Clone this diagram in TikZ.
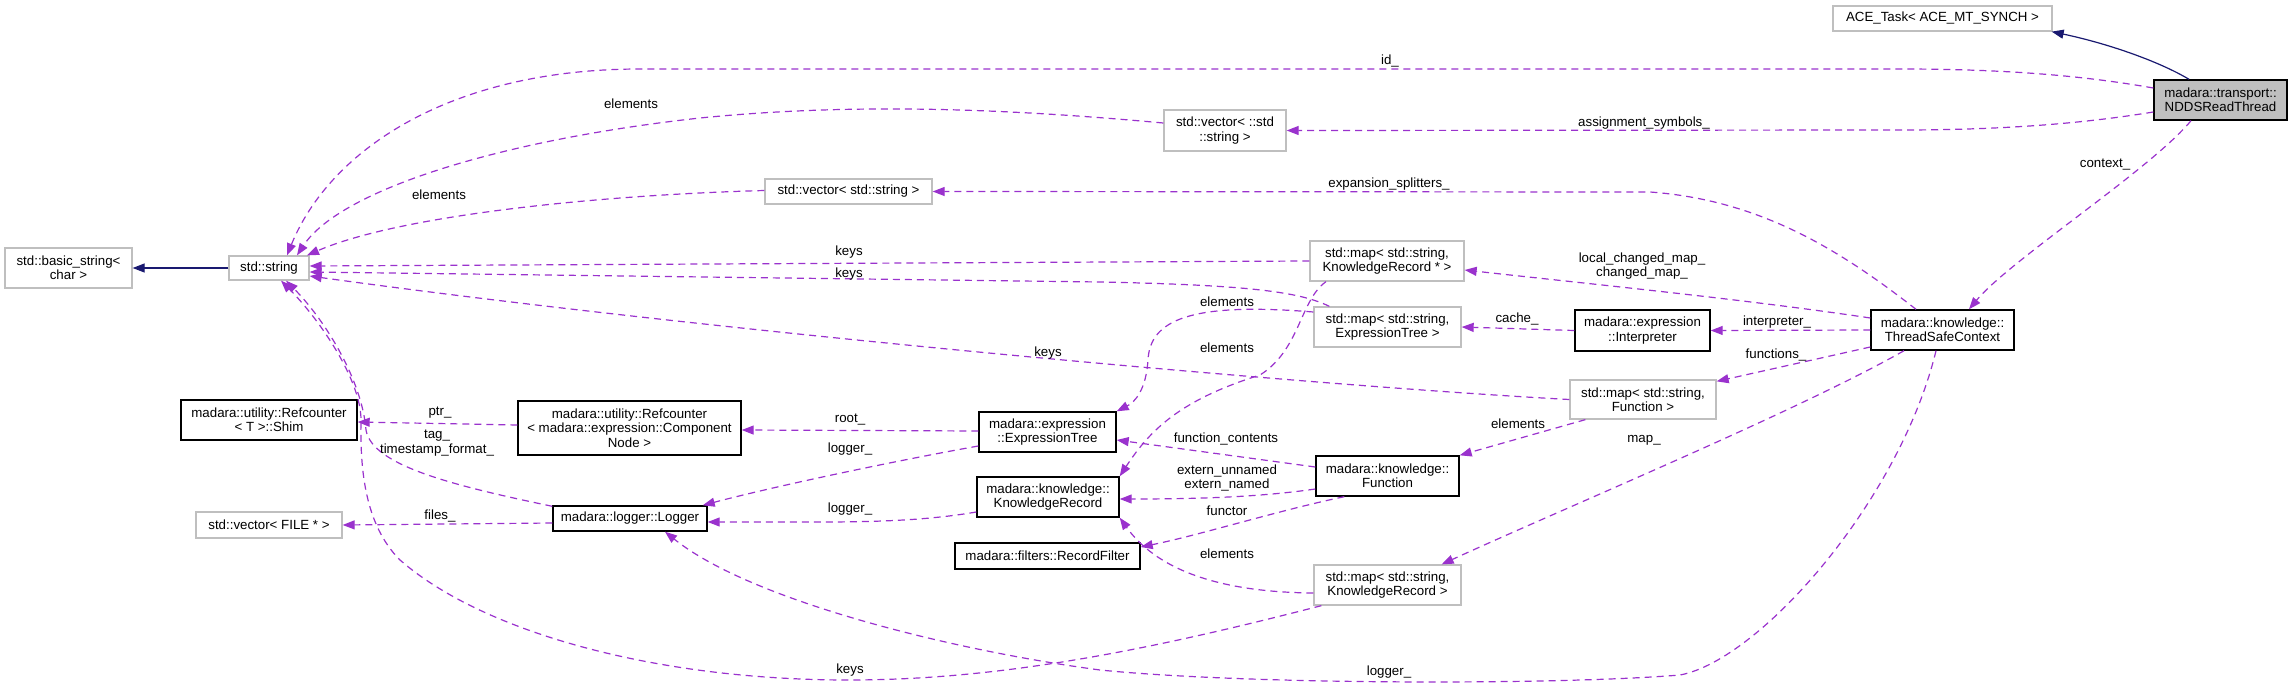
\documentclass[tikz,border=0pt]{standalone}
\usepackage{fontspec}
\setmainfont{Liberation Sans}
\usetikzlibrary{arrows.meta,calc}
\definecolor{edgepurple}{HTML}{9A32CD}
\definecolor{inhblue}{HTML}{191970}
\definecolor{gborder}{HTML}{BFBFBF}
\definecolor{nddsfill}{HTML}{BFBFBF}
\begin{document}
\begin{tikzpicture}[x=1pt,y=-1pt,
  font=\fontsize{13.3}{14.3}\selectfont,
  docbox/.style={draw=black, line width=1.4pt, fill=white, inner sep=0pt, align=center},
  undocbox/.style={draw=gborder, line width=1.3pt, fill=white, inner sep=0pt, align=center},
  hlbox/.style={draw=black, line width=1.4pt, fill=nddsfill, inner sep=0pt, align=center},
  rel/.style={draw=edgepurple, line width=1.2pt, dash pattern=on 7pt off 5pt, -{Triangle[length=12pt,width=9pt]}},
  inh/.style={draw=inhblue, line width=1.2pt, -{Triangle[length=12pt,width=9pt]}},
  lbl/.style={inner sep=0pt, align=center, fill=none}]
\useasboundingbox (0,0) rectangle (2292,688);
% nodes
\node[undocbox, minimum width=219pt, minimum height=25pt] (ace) at (1942.5,18.5) {ACE\_Task< ACE\_MT\_SYNCH >};
\node[hlbox, minimum width=133pt, minimum height=40pt] (ndds) at (2220.5,100) {madara::transport::\\NDDSReadThread};
\node[undocbox, minimum width=127pt, minimum height=40pt] (basic) at (68.5,268) {std::basic\_string<\\char >};
\node[undocbox, minimum width=80pt, minimum height=24pt] (str) at (269,268) {std::string};
\node[docbox, minimum width=176pt, minimum height=40pt] (shim) at (269,420) {madara::utility::Refcounter\\< T >::Shim};
\node[docbox, minimum width=223pt, minimum height=54pt] (refcn) at (629.5,428) {madara::utility::Refcounter\\< madara::expression::Component\\Node >};
\node[undocbox, minimum width=146pt, minimum height=26pt] (vfile) at (269,525) {std::vector< FILE * >};
\node[docbox, minimum width=154pt, minimum height=25pt] (logger) at (630,518.5) {madara::logger::Logger};
\node[docbox, minimum width=137pt, minimum height=40pt] (et) at (1047.5,432) {madara::expression\\::ExpressionTree};
\node[docbox, minimum width=142pt, minimum height=40pt] (kr) at (1048,497) {madara::knowledge::\\KnowledgeRecord};
\node[docbox, minimum width=185pt, minimum height=26pt] (rf) at (1047.5,556) {madara::filters::RecordFilter};
\node[undocbox, minimum width=167pt, minimum height=25pt] (vss) at (848.5,191.5) {std::vector< std::string >};
\node[undocbox, minimum width=122pt, minimum height=41pt] (vstd) at (1225,130.5) {std::vector< ::std\\::string >};
\node[undocbox, minimum width=154pt, minimum height=40pt] (mkrp) at (1387,261) {std::map< std::string,\\KnowledgeRecord * >};
\node[undocbox, minimum width=147pt, minimum height=40pt] (met) at (1387.5,327) {std::map< std::string,\\ExpressionTree >};
\node[docbox, minimum width=135pt, minimum height=41pt] (interp) at (1642.5,330.5) {madara::expression\\::Interpreter};
\node[docbox, minimum width=143pt, minimum height=40pt] (tsc) at (1942.5,330) {madara::knowledge::\\ThreadSafeContext};
\node[undocbox, minimum width=146pt, minimum height=39pt] (mfn) at (1643,399.5) {std::map< std::string,\\Function >};
\node[docbox, minimum width=143pt, minimum height=40pt] (fn) at (1387.5,476) {madara::knowledge::\\Function};
\node[undocbox, minimum width=147pt, minimum height=40pt] (mkr) at (1387.5,585) {std::map< std::string,\\KnowledgeRecord >};
% inheritance
\draw[inh] ($(ndds.north)+(-31.5,0)$) .. controls (2160,62) and (2110,44) .. ($(ace.south east)+(-1,0)$);
\draw[inh] (str.west) -- (basic.east);
% relations
\draw[rel] ($(ndds.west)+(0,-12)$) .. controls (2080,75) and (2000,69) .. (1900,69) -- (640,69) .. controls (450,69) and (330,150) .. ($(str.north)+(18,0)$);
\draw[rel] ($(ndds.west)+(0,12)$) .. controls (2080,124) and (2000,130) .. (1900,130) -- (vstd.east);
\draw[rel] ($(vstd.west)+(0,-7.5)$) .. controls (1000,108) and (850,103) .. (700,118) .. controls (500,140) and (340,190) .. ($(str.north)+(28,0)$);
\draw[rel] ($(vss.west)+(0,-1)$) .. controls (600,195) and (400,215) .. ($(str.north)+(38,0)$);
\draw[rel] ($(tsc.north)+(-26.5,0)$) .. controls (1840,250) and (1760,200) .. (1650,192) -- (vss.east);
\draw[rel] ($(ndds.south)+(-29.5,0)$) .. controls (2150,170) and (2010,260) .. ($(tsc.north)+(26.5,0)$);
\draw[rel] (mkrp.west) -- ($(str.east)+(0,-2)$);
\draw[rel] ($(met.north west)+(16,0)$) .. controls (1300,292) and (1250,285) .. (1100,282) -- ($(str.east)+(0,4)$);
\draw[rel] (mfn.west) .. controls (1300,385) and (700,330) .. ($(str.east)+(0,8)$);
\draw[rel] ($(logger.north west)+(0,1)$) .. controls (450,485) and (372,465) .. (366,430) .. controls (362,380) and (325,320) .. ($(str.south)+(17,0)$);
\draw[rel] ($(mkr.south west)+(8,0)$) .. controls (1150,650) and (1000,680) .. (849,680) .. controls (650,680) and (480,630) .. (400,560) .. controls (365,525) and (360,470) .. (361,420) .. controls (361,380) and (320,320) .. ($(str.south)+(12,0)$);
\draw[rel] ($(refcn.west)+(0,-3)$) -- ($(shim.east)+(0,2)$);
\draw[rel] ($(logger.west)+(0,4.5)$) -- (vfile.east);
\draw[rel] ($(et.west)+(0,-1)$) -- ($(refcn.east)+(0,2)$);
\draw[rel] ($(et.west)+(0,14)$) .. controls (900,460) and (780,485) .. ($(logger.north east)+(-5,0)$);
\draw[rel] ($(kr.west)+(0,15)$) .. controls (930,520) and (880,522) .. (820,522) -- ($(logger.east)+(0,3.5)$);
\draw[rel] ($(tsc.south)+(-6.5,0)$) .. controls (1900,500) and (1760,660) .. (1680,675) .. controls (1560,685) and (1250,685) .. (1100,670) .. controls (950,650) and (750,600) .. ($(logger.south)+(35,0)$);
\draw[rel] ($(met.west)+(0,-15)$) .. controls (1190,302) and (1150,320) .. (1148,360) .. controls (1146,390) and (1135,402) .. (et.north east);
\draw[rel] ($(mkrp.south)+(-61,0)$) .. controls (1300,300) and (1300,350) .. (1260,375) .. controls (1180,400) and (1150,430) .. (kr.north east);
\draw[rel] ($(fn.west)+(0,-9)$) -- ($(et.east)+(0,8)$);
\draw[rel] ($(fn.west)+(0,13)$) .. controls (1260,497) and (1200,499) .. ($(kr.east)+(0,2)$);
\draw[rel] ($(fn.south west)+(29,0)$) .. controls (1280,510) and (1200,535) .. ($(rf.east)+(0,-9)$);
\draw[rel] ($(mkr.west)+(0,8)$) .. controls (1200,592) and (1150,560) .. (kr.south east);
\draw[rel] ($(mfn.south west)+(16,0)$) -- (fn.north east);
\draw[rel] (interp.west) -- (met.east);
\draw[rel] (tsc.west) -- (interp.east);
\draw[rel] ($(tsc.west)+(0,17)$) -- ($(mfn.north east)+(0,2)$);
\draw[rel] ($(tsc.west)+(0,-12)$) .. controls (1750,300) and (1600,285) .. ($(mkrp.east)+(0,9)$);
\draw[rel] ($(tsc.south)+(-38.5,0)$) .. controls (1800,410) and (1560,510) .. ($(mkr.north east)+(-20,0)$);
% labels
\node[lbl] (l1) at (1390,61) {id\_};
\node[lbl] (l2) at (1644,123) {assignment\_symbols\_};
\node[lbl] (l3) at (631,104) {elements};
\node[lbl] (l4) at (439,195) {elements};
\node[lbl] (l5) at (1389,184) {expansion\_splitters\_};
\node[lbl] (l6) at (2105,165) {context\_};
\node[lbl] (l7) at (849,252) {keys};
\node[lbl] (l8) at (849,274) {keys};
\node[lbl] (l9) at (1048,353) {keys};
\node[lbl] (l10) at (850,670) {keys};
\node[lbl] (l11) at (1642,266) {local\_changed\_map\_\\changed\_map\_};
\node[lbl] (l12) at (1517,319) {cache\_};
\node[lbl] (l13) at (1777,322) {interpreter\_};
\node[lbl] (l14) at (1776,355) {functions\_};
\node[lbl] (l15) at (1227,302) {elements};
\node[lbl] (l16) at (1227,348) {elements};
\node[lbl] (l17) at (1226,439) {function\_contents};
\node[lbl] (l18) at (1518,424) {elements};
\node[lbl] (l19) at (1644,440) {map\_};
\node[lbl] (l20) at (1227,478) {extern\_unnamed\\extern\_named};
\node[lbl] (l21) at (1227,511) {functor};
\node[lbl] (l22) at (1227,554) {elements};
\node[lbl] (l23) at (1389,672) {logger\_};
\node[lbl] (l24) at (850,420) {root\_};
\node[lbl] (l25) at (850,449) {logger\_};
\node[lbl] (l26) at (850,509) {logger\_};
\node[lbl] (l27) at (440,413) {ptr\_};
\node[lbl] (l28) at (437,443) {tag\_\\timestamp\_format\_};
\node[lbl] (l29) at (440,516) {files\_};
\end{tikzpicture}
\end{document}
